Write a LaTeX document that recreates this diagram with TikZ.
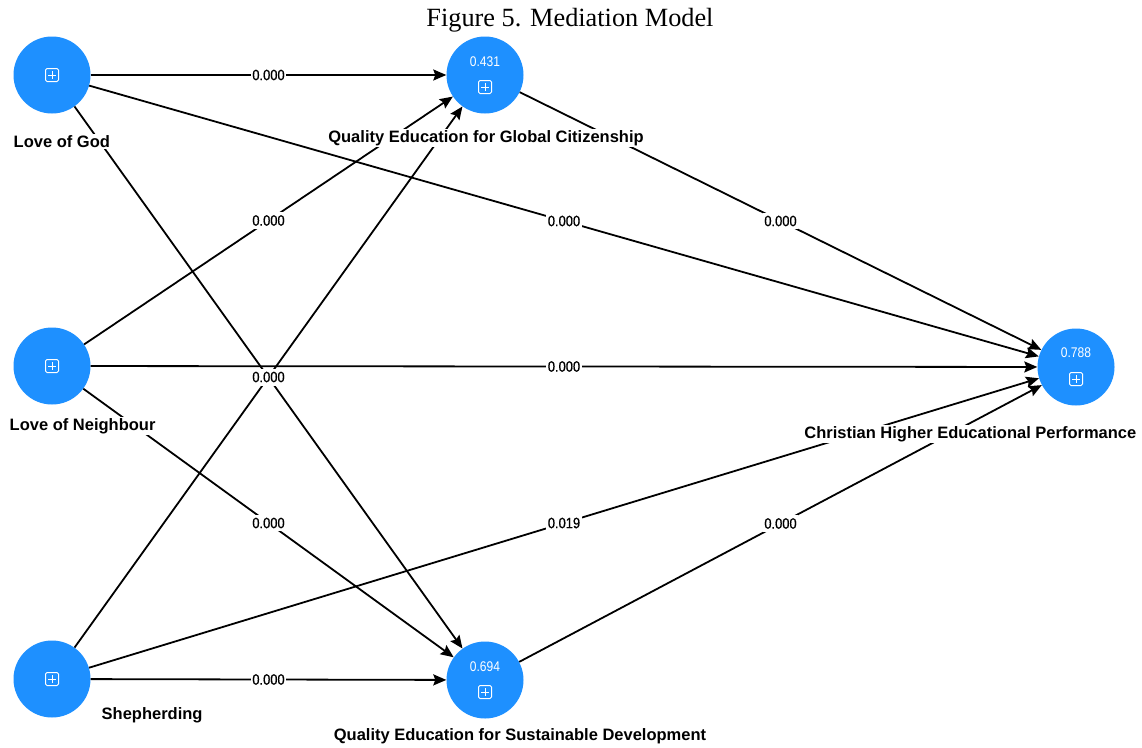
\documentclass[tikz,border=0pt]{standalone}
\usepackage{fontspec}
\setmainfont{Liberation Serif}
\newfontfamily\lblfont{Liberation Sans}
\newfontfamily\numfont[FakeStretch=0.86,FakeBold=0.6]{Liberation Sans}
\newfontfamily\rsqfont[FakeStretch=0.86]{Liberation Sans}
\usetikzlibrary{arrows.meta}
\definecolor{nodeblue}{RGB}{30,144,255}
\tikzset{
  construct/.style={circle, fill=nodeblue, minimum size=77pt, inner sep=0pt},
  link/.style={line width=1.8pt, -{Stealth[length=13pt,width=11pt,inset=2pt]}},
  coef/.style={fill=white, inner xsep=1.5pt, inner ysep=3pt, font=\numfont\fontsize{15}{16}\selectfont},
  vname/.style={fill=white, inner sep=1.5pt, font=\lblfont\bfseries\fontsize{16.5}{18}\selectfont},
  rsq/.style={text=white, inner sep=0pt, font=\rsqfont\fontsize{14}{15}\selectfont},
  plusbox/.pic={
    \draw[white, line width=1pt, rounded corners=1.5pt] (-6.5,-6.5) rectangle (6.5,6.5);
    \draw[white, line width=1pt] (-4,0) -- (4,0) (0,-4) -- (0,4);
  }
}
\begin{document}
\begin{tikzpicture}[x=1pt,y=-1pt]
\useasboundingbox[fill=white] (0,0) rectangle (1142,747);

% title
\node[anchor=base, inner sep=0pt, font=\fontsize{26.3}{30}\selectfont] (title) at (570,26) {Figure 5. Mediation Model};

% constructs
\node[construct] (god)  at (52,75)   {};
\node[construct] (qegc) at (485,75)  {};
\node[construct] (nbr)  at (52,366)  {};
\node[construct] (chep) at (1076,367) {};
\node[construct] (shep) at (52,679)  {};
\node[construct] (qesd) at (485,680) {};

% icons and R-square values
\pic at (52,75) {plusbox};
\pic at (52,366) {plusbox};
\pic at (52,679) {plusbox};
\pic at (485,87) {plusbox};
\pic at (485,692) {plusbox};
\pic at (1076,379) {plusbox};
\node[rsq] (r1) at (485,62)  {0.431};
\node[rsq] (r2) at (485,667) {0.694};
\node[rsq] (r3) at (1076,353) {0.788};

% paths
\draw[link] (god)  -- (qegc);
\draw[link] (god)  -- (chep);
\draw[link] (god)  -- (qesd);
\draw[link] (nbr)  -- (qegc);
\draw[link] (nbr)  -- (chep);
\draw[link] (nbr)  -- (qesd);
\draw[link] (shep) -- (qegc);
\draw[link] (shep) -- (chep);
\draw[link] (shep) -- (qesd);
\draw[link] (qegc) -- (chep);
\draw[link] (qesd) -- (chep);

% coefficients
\path (god)  -- node[coef] {0.000} (qegc);
\path (god)  -- node[coef] {0.000} (chep);
\path (god)  -- node[coef] {0.000} (qesd);
\path (nbr)  -- node[coef] {0.000} (qegc);
\path (nbr)  -- node[coef] {0.000} (chep);
\path (nbr)  -- node[coef] {0.000} (qesd);
\path (shep) -- node[coef] {0.000} (qegc);
\path (shep) -- node[coef] {0.019} (chep);
\path (shep) -- node[coef] {0.000} (qesd);
\path (qegc) -- node[coef] {0.000} (chep);
\path (qesd) -- node[coef] {0.000} (chep);

% construct names
\node[vname, anchor=base west] (lgod) at (12,147) {Love of God};
\node[vname, anchor=base] (lqegc) at (486,142) {Quality Education for Global Citizenship};
\node[vname, anchor=base west] (lnbr) at (8,430) {Love of Neighbour};
\node[vname, anchor=base east] (lchep) at (1138,438) {Christian Higher Educational Performance};
\node[vname, anchor=base west] (lshep) at (100,719) {Shepherding};
\node[vname, anchor=base] (lqesd) at (520,740) {Quality Education for Sustainable Development};
\end{tikzpicture}
\end{document}
